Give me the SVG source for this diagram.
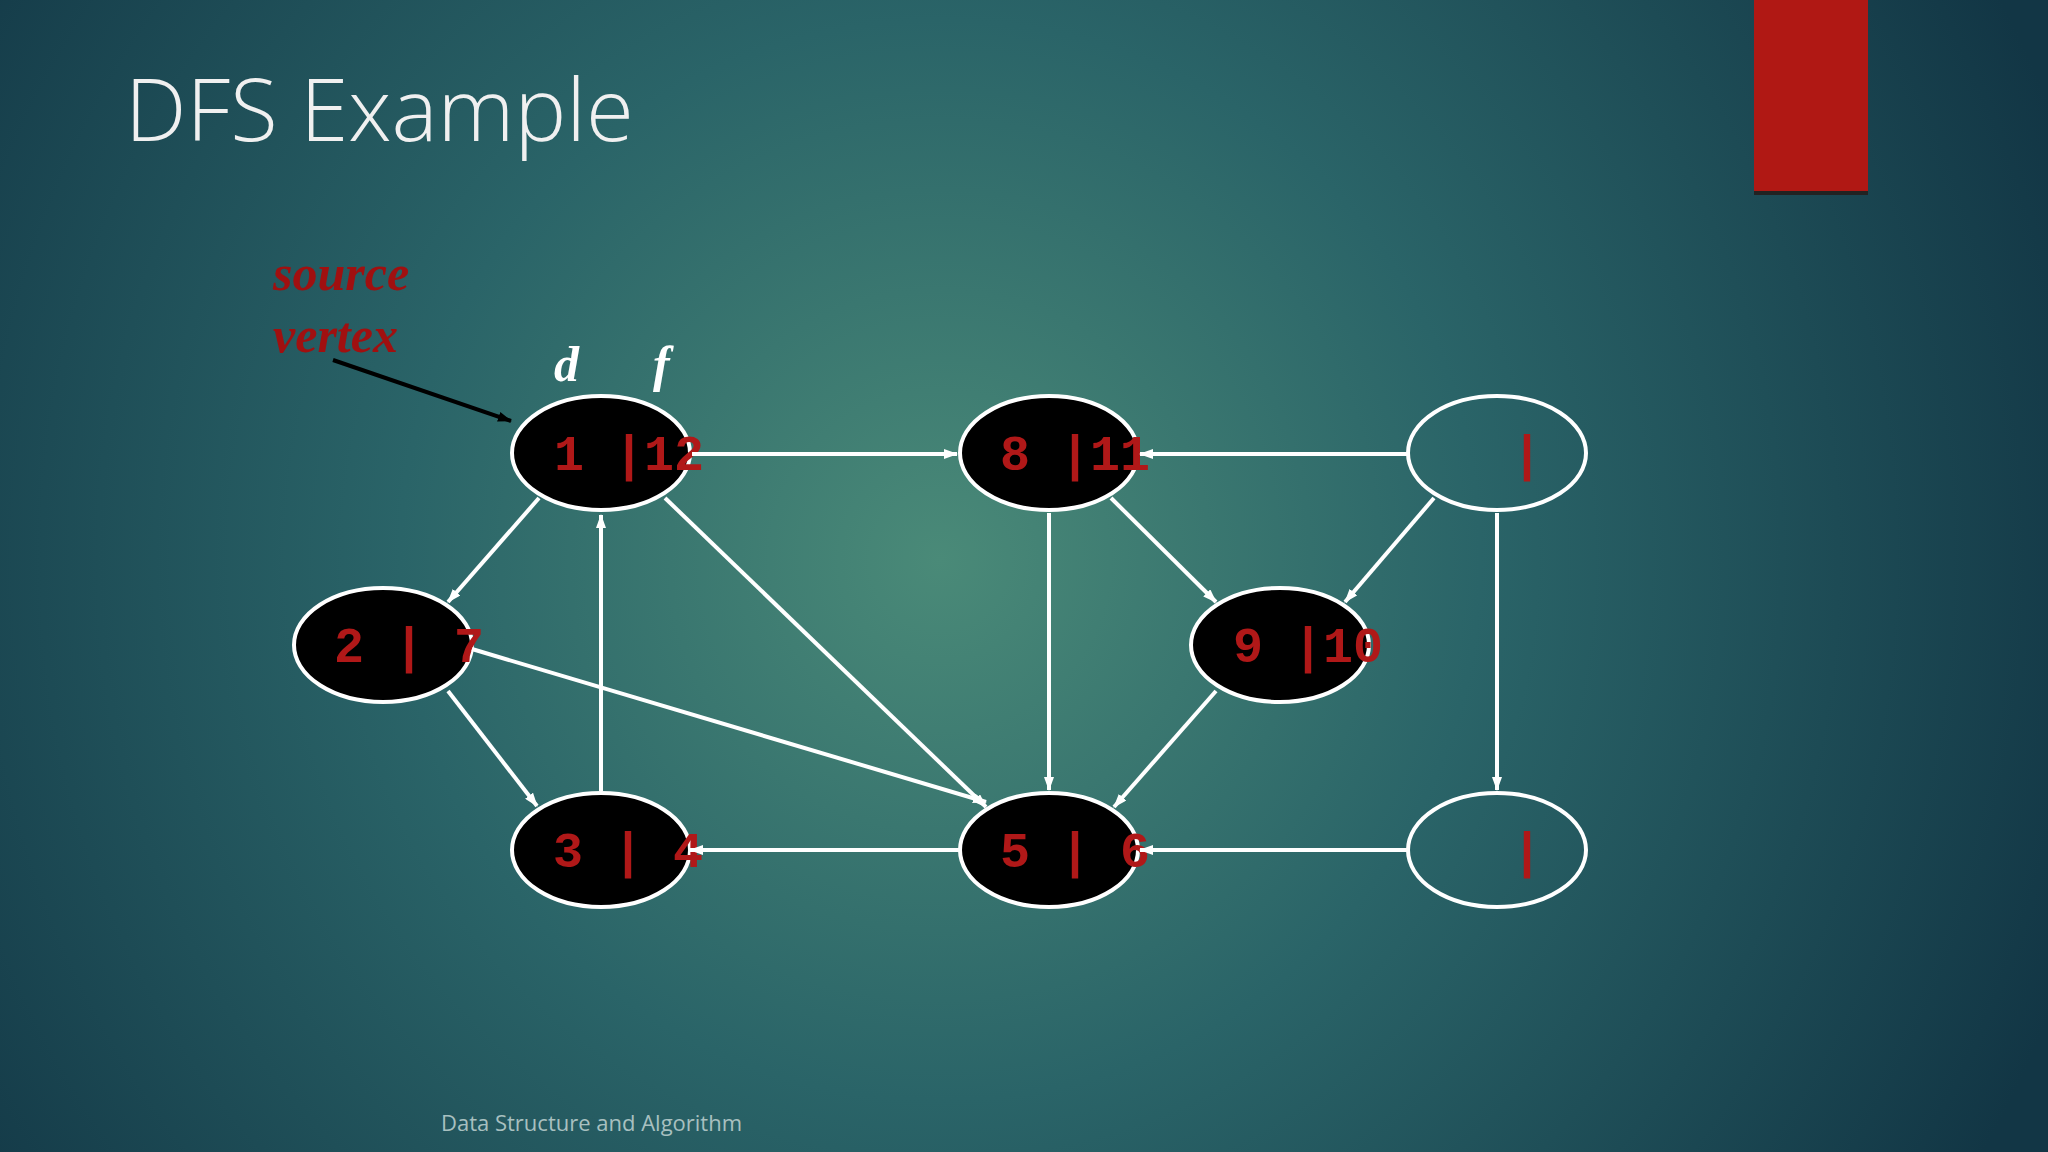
<svg xmlns="http://www.w3.org/2000/svg" width="2048" height="1152" viewBox="0 0 2048 1152">
<defs>
<radialGradient id="bg" cx="940" cy="560" r="1200" gradientUnits="userSpaceOnUse">
<stop offset="0" stop-color="#4a8a78"/><stop offset="0.45" stop-color="#2a6468"/><stop offset="1" stop-color="#123645"/>
</radialGradient>
<marker id="aw" markerWidth="14" markerHeight="10" refX="13" refY="5" orient="auto" markerUnits="userSpaceOnUse"><path d="M0,0 L14,5 L0,10 Z" fill="#fff"/></marker>
<marker id="ab" markerWidth="14" markerHeight="10" refX="13" refY="5" orient="auto" markerUnits="userSpaceOnUse"><path d="M0,0 L14,5 L0,10 Z" fill="#000"/></marker>
</defs>
<style>
.n{stroke:#fff;stroke-width:4}
.f{fill:#000}.e{fill:none}
.t{font-family:"Liberation Mono",monospace;font-weight:bold;font-size:50px;fill:#b01818;white-space:pre}
#edges line{stroke:#fff;stroke-width:4;marker-end:url(#aw)}
.it{font-family:"Liberation Serif",serif;font-style:italic;font-weight:bold;font-size:50px}
</style>
<rect width="2048" height="1152" fill="url(#bg)"/>
<rect x="1754" y="0" width="114" height="195" fill="#222"/>
<rect x="1754" y="0" width="114" height="191" fill="#b01814"/>
<text x="125" y="141" font-family="Open Sans,sans-serif" font-weight="300" font-size="87" fill="#f0f0f0">DFS Example</text>
<text class="it" x="273" y="290" fill="#a01010">source</text>
<text class="it" x="273" y="352" fill="#a01010">vertex</text>
<text class="it" x="554" y="381" fill="#fff">d</text>
<text class="it" x="653" y="381" fill="#fff">f</text>
<line x1="333" y1="360" x2="511" y2="421" stroke="#000" stroke-width="4" marker-end="url(#ab)"/>
<g id="n1"><ellipse class="n f" cx="601" cy="453" rx="89" ry="57"/><text class="t" x="554" y="470">1 |12</text></g>
<g id="n8"><ellipse class="n f" cx="1049" cy="453" rx="89" ry="57"/><text class="t" x="1000" y="470">8 |11</text></g>
<g id="n7"><ellipse class="n e" cx="1497" cy="453" rx="89" ry="57"/><text class="t" x="1527" y="470" text-anchor="middle">|</text></g>
<g id="n2"><ellipse class="n f" cx="383" cy="645" rx="89" ry="57"/><text class="t" x="334" y="662">2 | 7</text></g>
<g id="n9"><ellipse class="n f" cx="1280" cy="645" rx="89" ry="57"/><text class="t" x="1233" y="662">9 |10</text></g>
<g id="n3"><ellipse class="n f" cx="601" cy="850" rx="89" ry="57"/><text class="t" x="553" y="867">3 | 4</text></g>
<g id="n5"><ellipse class="n f" cx="1049" cy="850" rx="89" ry="57"/><text class="t" x="1000" y="867">5 | 6</text></g>
<g id="n6"><ellipse class="n e" cx="1497" cy="850" rx="89" ry="57"/><text class="t" x="1527" y="867" text-anchor="middle">|</text></g>
<g id="edges">
<line x1="692" y1="454" x2="957" y2="454"/>
<line x1="1408" y1="454" x2="1140" y2="454"/>
<line x1="539" y1="498" x2="448" y2="602"/>
<line x1="665" y1="498" x2="986" y2="807"/>
<line x1="601" y1="791" x2="601" y2="515"/>
<line x1="448" y1="691" x2="537" y2="806"/>
<line x1="472" y1="649" x2="986" y2="802"/>
<line x1="960" y1="850" x2="690" y2="850"/>
<line x1="1049" y1="513" x2="1049" y2="790"/>
<line x1="1111" y1="498" x2="1216" y2="602"/>
<line x1="1434" y1="498" x2="1345" y2="602"/>
<line x1="1216" y1="691" x2="1114" y2="807"/>
<line x1="1497" y1="513" x2="1497" y2="790"/>
<line x1="1408" y1="850" x2="1140" y2="850"/>
</g>
<text x="441" y="1131" font-family="Open Sans,sans-serif" font-size="22" fill="#a8c0c0">Data Structure and Algorithm</text>
</svg>
